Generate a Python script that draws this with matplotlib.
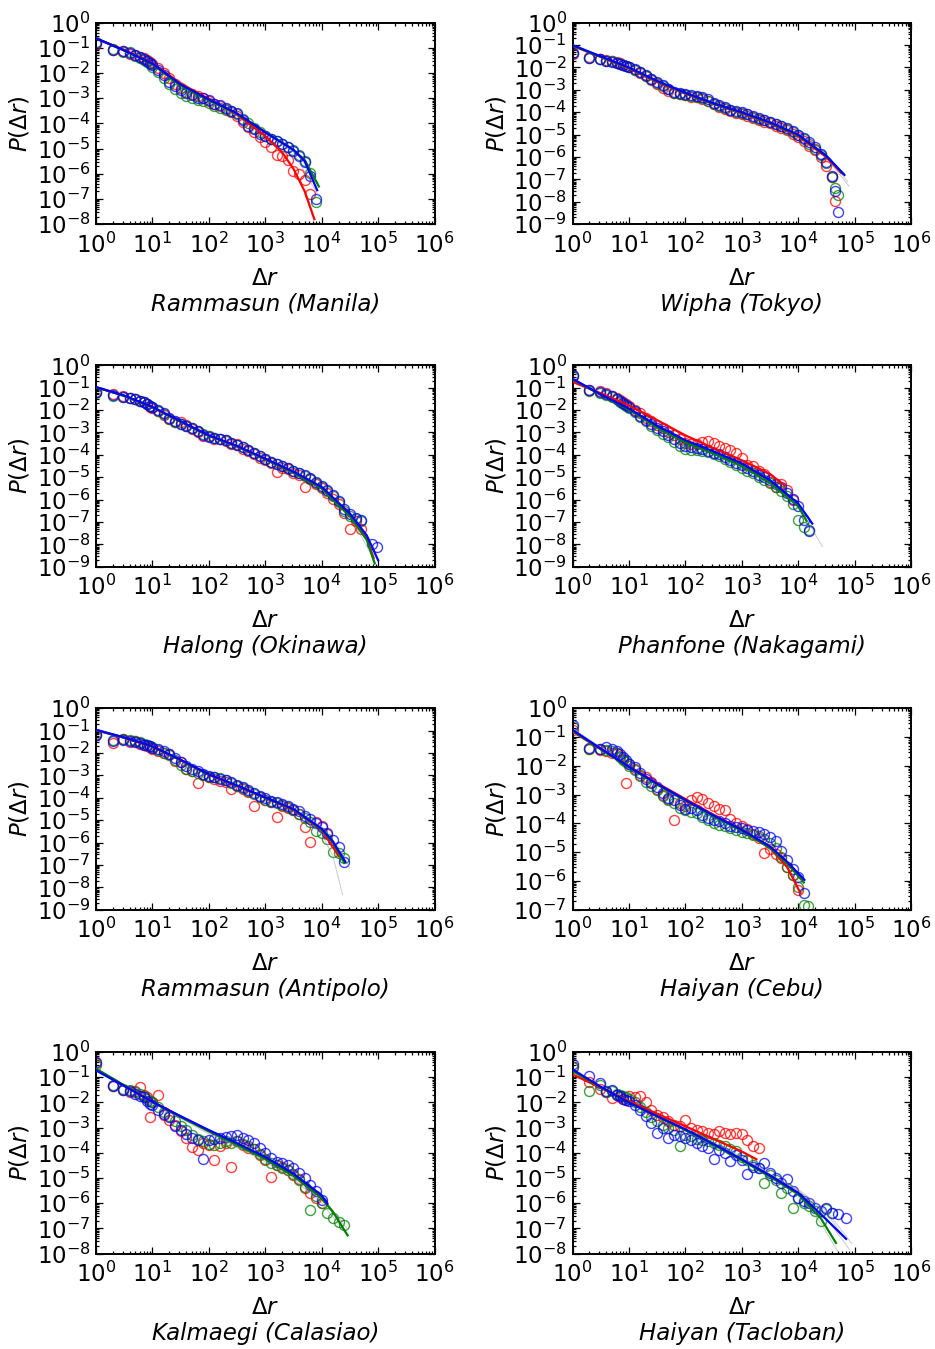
import numpy as np
import matplotlib
matplotlib.use("Agg")
import matplotlib.pyplot as plt
from matplotlib.ticker import LogLocator, NullFormatter

# ---------------- data (log10 values) ----------------
NAMES = ["Rammasun (Manila)", "Wipha (Tokyo)", "Halong (Okinawa)", "Phanfone (Nakagami)",
         "Rammasun (Antipolo)", "Haiyan (Cebu)", "Kalmaegi (Calasiao)", "Haiyan (Tacloban)"]
YMIN_EXP = [-8, -9, -9, -9, -9, -7, -8, -8]

# Panel 1: Rammasun (Manila)
X1 = [0, .30, .48, .60, .70, .78, .85, .90, .95, 1.0, 1.1, 1.2, 1.3, 1.4, 1.5, 1.6, 1.7, 1.8, 1.9,
      2.0, 2.1, 2.2, 2.3, 2.4, 2.5, 2.6, 2.7, 2.8, 2.9, 3.0, 3.1, 3.2, 3.3, 3.4, 3.5, 3.6, 3.7, 3.8, 3.9]
R1 = [-0.85, -1.1, -1.12, -1.25, -1.3, -1.35, -1.42, -1.48, -1.55, -1.62, -1.8, -1.98, -2.2, -2.42,
      -2.58, -2.75, -2.85, -2.92, -3.0, -3.12, -3.22, -3.32, -3.42, -3.55, -3.7, -3.95, -4.15, -4.35,
      -4.55, -4.75, -4.95, -5.25, -5.3, -5.45, -5.9, -6.0, -6.25, -6.8]
G1 = [-0.78, -1.05, -1.17, -1.18, -1.32, -1.4, -1.47, -1.55, -1.65, -1.75, -1.95, -2.2, -2.45, -2.65,
      -2.8, -2.92, -3.0, -3.05, -3.12, -3.2, -3.3, -3.38, -3.45, -3.52, -3.62, -3.82, -4.0, -4.2,
      -4.35, -4.5, -4.6, -4.7, -4.8, -4.92, -5.05, -5.25, -5.5, -5.95, -7.1]
B1 = [-0.82, -1.1, -1.14, -1.22, -1.28, -1.36, -1.44, -1.52, -1.6, -1.66, -1.88, -2.08, -2.35, -2.52,
      -2.68, -2.78, -2.86, -2.97, -3.0, -3.08, -3.22, -3.28, -3.38, -3.52, -3.6, -3.88, -4.1, -4.22,
      -4.42, -4.5, -4.62, -4.7, -4.82, -4.95, -5.08, -5.3, -5.55, -6.1, -7.0]
FR1 = ([0, 0.5, 1, 1.5, 2, 2.5, 3, 3.3, 3.5, 3.7, 3.87],
       [-0.62, -1.08, -1.6, -2.42, -3.03, -3.65, -4.5, -5.15, -5.8, -6.7, -7.8])
FG1 = ([0, 0.5, 1, 1.5, 2, 2.5, 3, 3.5, 3.7, 3.95],
       [-0.62, -1.1, -1.65, -2.5, -3.08, -3.62, -4.35, -5.05, -5.45, -6.5])
FB1 = ([0, 0.5, 1, 1.5, 2, 2.5, 3, 3.5, 3.7, 3.92],
       [-0.62, -1.1, -1.62, -2.45, -3.05, -3.6, -4.35, -5.05, -5.5, -6.65])
GR1 = [([0, 1, 2, 3, 3.5, 3.95], [-0.65, -1.65, -3.05, -4.4, -5.15, -6.9]),
       ([0, 1, 2, 3, 3.5, 3.95], [-0.6, -1.6, -3.1, -4.3, -5.0, -6.4])]

# Panel 2: Wipha (Tokyo)
X2 = [0, .30, .48, .60, .70, .78, .85, .90, .95, 1.0, 1.1, 1.2, 1.3, 1.4, 1.5, 1.6, 1.7, 1.8, 1.9,
      2.0, 2.1, 2.2, 2.3, 2.4, 2.5, 2.6, 2.7, 2.8, 2.9, 3.0, 3.1, 3.2, 3.3, 3.4, 3.5, 3.6, 3.7, 3.8, 3.9,
      4.0, 4.1, 4.2, 4.3, 4.4, 4.5, 4.6, 4.65, 4.7]
R2 = [-1.4, -1.52, -1.6, -1.65, -1.7, -1.75, -1.82, -1.88, -1.92, -1.98, -2.1, -2.25, -2.4, -2.55,
      -2.72, -2.9, -3.05, -3.15, -3.2, -3.25, -3.3, -3.32, -3.4, -3.5, -3.62, -3.75, -3.85, -3.95,
      -4.05, -4.08, -4.15, -4.25, -4.33, -4.42, -4.5, -4.6, -4.7, -4.8, -4.95, -5.1, -5.3, -5.5,
      -5.7, -6.0, -6.4, -6.9, -7.95]
G2 = [-1.35, -1.57, -1.64, -1.7, -1.73, -1.8, -1.86, -1.9, -1.95, -1.98, -2.1, -2.22, -2.38, -2.52,
      -2.68, -2.82, -2.98, -3.12, -3.18, -3.22, -3.27, -3.3, -3.37, -3.48, -3.62, -3.72, -3.8, -3.9,
      -3.98, -4.02, -4.1, -4.2, -4.28, -4.36, -4.44, -4.53, -4.63, -4.73, -4.87, -5.02, -5.2, -5.42,
      -5.62, -5.9, -6.25, -6.9, -7.4, -7.7]
B2 = [-1.37, -1.59, -1.63, -1.69, -1.74, -1.8, -1.85, -1.9, -1.94, -1.97, -2.08, -2.2, -2.35, -2.5,
      -2.65, -2.8, -2.95, -3.08, -3.15, -3.18, -3.22, -3.27, -3.33, -3.43, -3.58, -3.68, -3.78, -3.88,
      -3.96, -4.0, -4.08, -4.18, -4.27, -4.35, -4.43, -4.52, -4.62, -4.72, -4.85, -5.0, -5.15, -5.35,
      -5.53, -5.85, -6.2, -6.85, -7.5, -8.45]
FR2 = ([0, 0.5, 1, 1.5, 2, 2.5, 3, 3.5, 4, 4.5, 4.76],
       [-1.03, -1.53, -2.05, -2.65, -3.17, -3.63, -4.05, -4.5, -5.07, -6.0, -6.7])
FG2 = ([0, 0.5, 1, 1.5, 2, 2.5, 3, 3.5, 4, 4.5, 4.8],
       [-1.02, -1.52, -2.02, -2.62, -3.15, -3.62, -4.03, -4.48, -5.03, -5.95, -6.75])
FB2 = ([0, 0.5, 1, 1.5, 2, 2.5, 3, 3.5, 4, 4.5, 4.82],
       [-1.0, -1.5, -2.0, -2.6, -3.13, -3.6, -4.0, -4.45, -5.0, -5.95, -6.8])
GR2 = [([0, 1, 2, 3, 4, 4.5, 4.9], [-1.02, -2.02, -3.15, -4.02, -5.05, -6.05, -7.3]),
       ([0, 1, 2, 3, 4, 4.5, 4.88], [-1.0, -2.0, -3.12, -4.0, -5.0, -6.0, -7.1])]

# Panel 3: Halong (Okinawa)
X3 = [0, .30, .48, .60, .70, .78, .85, .90, .95, 1.0, 1.1, 1.2, 1.3, 1.4, 1.5, 1.6, 1.7, 1.8, 1.9,
      2.0, 2.1, 2.2, 2.3, 2.4, 2.5, 2.6, 2.7, 2.8, 2.9, 3.0, 3.1, 3.2, 3.3, 3.4, 3.5, 3.6, 3.7, 3.8, 3.9,
      4.0, 4.1, 4.2, 4.3, 4.4, 4.5, 4.6, 4.7, 4.9, 4.98]
R3 = [-1.2, -1.3, -1.38, -1.48, -1.52, -1.6, -1.62, -1.75, -1.85, -1.9, -2.05, -2.2, -2.42, -2.55,
      -2.55, -2.68, -2.85, -3.0, -3.15, -3.15, -3.3, -3.28, -3.4, -3.5, -3.5, -3.72, -3.82, -3.95,
      -4.15, -4.25, -4.35, -4.76, -4.6, -4.65, -4.8, -4.9, -5.43, -5.1, -5.3, -5.5, -5.7, -5.95,
      -6.2, -6.6, -7.3, -6.95, -7.3]
G3 = [-1.22, -1.36, -1.42, -1.45, -1.52, -1.6, -1.66, -1.73, -1.8, -1.88, -2.02, -2.18, -2.38,
      -2.52, -2.62, -2.72, -2.8, -2.93, -3.08, -3.18, -3.23, -3.28, -3.35, -3.45, -3.55, -3.65, -3.78,
      -3.9, -4.05, -4.2, -4.3, -4.4, -4.5, -4.6, -4.72, -4.82, -4.95, -5.08, -5.25, -5.42, -5.6,
      -5.85, -6.1, -6.5, -6.75, -6.85, -6.95]
B3 = [-1.19, -1.33, -1.4, -1.45, -1.5, -1.58, -1.65, -1.72, -1.8, -1.86, -2.0, -2.15, -2.35, -2.5,
      -2.6, -2.7, -2.8, -2.95, -3.1, -3.2, -3.25, -3.3, -3.35, -3.45, -3.55, -3.65, -3.78, -3.9, -4.05,
      -4.2, -4.3, -4.4, -4.5, -4.6, -4.7, -4.8, -4.92, -5.05, -5.2, -5.38, -5.55, -5.8, -6.05, -6.4,
      -6.65, -6.8, -6.9, -8.0, -8.1]
FR3 = ([0, 0.5, 1, 1.5, 2, 2.5, 3, 3.5, 4, 4.5, 4.8, 4.92],
       [-0.98, -1.36, -1.88, -2.52, -3.15, -3.62, -4.2, -4.8, -5.5, -6.72, -7.75, -8.6])
FG3 = ([0, 0.5, 1, 1.5, 2, 2.5, 3, 3.5, 4, 4.5, 4.8, 4.94],
       [-0.98, -1.36, -1.88, -2.52, -3.15, -3.62, -4.2, -4.8, -5.5, -6.75, -7.8, -8.85])
FB3 = ([0, 0.5, 1, 1.5, 2, 2.5, 3, 3.5, 4, 4.5, 4.8, 5.0],
       [-0.97, -1.35, -1.86, -2.5, -3.13, -3.6, -4.17, -4.75, -5.43, -6.62, -7.6, -8.7])
GR3 = [([0, 1, 2, 3, 4, 4.5, 4.95], [-0.98, -1.87, -3.14, -4.2, -5.48, -6.7, -8.8])]

# Panel 4: Phanfone (Nakagami)
X4 = [0, .30, .48, .60, .70, .78, .85, .90, .95, 1.0, 1.1, 1.2, 1.3, 1.4, 1.5, 1.6, 1.7, 1.8, 1.9,
      2.0, 2.1, 2.2, 2.3, 2.4, 2.5, 2.6, 2.7, 2.8, 2.9, 3.0, 3.1, 3.2, 3.3, 3.4, 3.5, 3.6, 3.7, 3.8, 3.9,
      4.0, 4.1, 4.2]
R4 = [-0.48, -1.1, -1.15, -1.25, -1.35, -1.45, -1.55, -1.62, -1.72, -1.8, -1.98, -2.15, -2.35, -2.5,
      -2.65, -2.82, -2.98, -3.12, -3.3, -3.45, -3.5, -3.5, -3.42, -3.4, -3.45, -3.6, -3.7, -3.8, -3.9,
      -4.15, -4.45, -4.5, -4.7, -4.84, -5.2, -5.45, -5.3, -5.58, -6.0]
G4 = [-0.5, -1.15, -1.25, -1.32, -1.42, -1.52, -1.62, -1.72, -1.8, -1.9, -2.1, -2.3, -2.5, -2.7,
      -2.88, -3.05, -3.22, -3.42, -3.6, -3.72, -3.78, -3.8, -3.82, -3.88, -3.95, -4.05, -4.18, -4.3,
      -4.45, -4.58, -4.7, -4.82, -4.98, -5.12, -5.25, -5.42, -5.6, -5.85, -6.2, -6.9, -7.2, -7.35]
B4 = [-0.45, -1.12, -1.2, -1.3, -1.38, -1.5, -1.6, -1.68, -1.78, -1.86, -2.05, -2.25, -2.45, -2.62,
      -2.78, -2.95, -3.1, -3.3, -3.45, -3.6, -3.65, -3.7, -3.75, -3.82, -3.9, -3.98, -4.1, -4.22,
      -4.35, -4.45, -4.58, -4.72, -4.88, -5.0, -5.12, -5.3, -5.45, -5.7, -5.95, -6.3, -6.9, -7.4]
FR4 = ([0, 0.5, 1, 1.5, 2, 2.5, 3, 3.5, 3.75],
       [-0.74, -1.25, -1.79, -2.45, -3.13, -3.7, -4.24, -4.85, -5.35])
FG4 = ([0, 0.5, 1, 1.5, 2, 2.5, 3, 3.5, 4, 4.15],
       [-0.62, -1.32, -1.98, -2.78, -3.45, -3.95, -4.5, -5.25, -6.3, -6.95])
FB4 = ([0, 0.5, 1, 1.5, 2, 2.5, 3, 3.5, 4, 4.25],
       [-0.6, -1.3, -1.93, -2.7, -3.35, -3.85, -4.39, -5.13, -6.17, -7.07])
GR4 = [([0, 1, 2, 3, 4, 4.43], [-0.65, -1.95, -3.4, -4.45, -6.25, -8.1])]

# Panel 5: Rammasun (Antipolo)
X5 = [0, .30, .48, .60, .70, .78, .85, .90, .95, 1.0, 1.1, 1.2, 1.3, 1.4, 1.5, 1.6, 1.7, 1.8, 1.9,
      2.0, 2.1, 2.2, 2.3, 2.4, 2.5, 2.6, 2.7, 2.8, 2.9, 3.0, 3.1, 3.2, 3.3, 3.4, 3.5, 3.6, 3.7, 3.8, 3.9,
      4.0, 4.1, 4.2, 4.3, 4.4]
R5 = [-1.2, -1.55, -1.38, -1.5, -1.45, -1.6, -1.62, -1.7, -1.72, -1.8, -1.9, -1.98, -2.05, -2.35,
      -2.4, -2.7, -2.8, -3.32, -3.0, -3.05, -3.15, -3.25, -3.3, -3.6, -3.45, -3.6, -3.75, -4.35, -3.95,
      -4.1, -4.2, -4.87, -4.35, -4.45, -4.55, -4.7, -5.3, -5.97, -5.1, -5.25, -5.6]
G5 = [-1.15, -1.4, -1.38, -1.42, -1.48, -1.5, -1.58, -1.62, -1.68, -1.75, -1.88, -1.98, -2.1, -2.3,
      -2.55, -2.7, -2.78, -2.88, -2.98, -3.05, -3.08, -3.12, -3.2, -3.35, -3.48, -3.58, -3.7, -3.82,
      -3.98, -4.08, -4.18, -4.25, -4.32, -4.42, -4.55, -4.72, -4.9, -5.1, -5.5, -5.55, -5.85, -6.42,
      -6.45, -6.7]
B5 = [-1.18, -1.47, -1.4, -1.45, -1.52, -1.55, -1.62, -1.65, -1.7, -1.77, -1.83, -1.92, -2.04,
      -2.2, -2.4, -2.58, -2.7, -2.82, -2.92, -3.02, -3.08, -3.15, -3.2, -3.3, -3.42, -3.52, -3.65,
      -3.78, -3.92, -4.02, -4.12, -4.2, -4.28, -4.38, -4.48, -4.6, -4.82, -4.95, -5.12, -5.28, -5.55,
      -5.9, -6.2, -6.86]
FR5 = ([0, 0.5, 1, 1.5, 2, 2.5, 3, 3.5, 4, 4.3],
       [-0.98, -1.32, -1.72, -2.32, -2.97, -3.47, -4.0, -4.55, -5.42, -6.6])
FG5 = ([0, 0.5, 1, 1.5, 2, 2.5, 3, 3.5, 4, 4.2, 4.4],
       [-0.97, -1.31, -1.71, -2.31, -2.96, -3.46, -4.0, -4.52, -5.42, -6.0, -6.9])
FB5 = ([0, 0.5, 1, 1.5, 2, 2.5, 3, 3.5, 4, 4.2, 4.42],
       [-0.96, -1.3, -1.7, -2.3, -2.95, -3.45, -3.98, -4.5, -5.38, -5.95, -6.86])
GR5 = [([0, 1, 2, 3, 3.5, 4, 4.2, 4.37], [-0.95, -1.7, -2.95, -3.98, -4.55, -5.6, -6.6, -8.33]),
       ([0, 1, 2, 3, 3.5, 4, 4.3, 4.5], [-0.96, -1.7, -2.95, -3.98, -4.48, -5.3, -6.2, -7.15])]

# Panel 6: Haiyan (Cebu)
X6 = [0, .30, .48, .60, .70, .78, .85, .90, .95, 1.0, 1.1, 1.2, 1.3, 1.4, 1.5, 1.6, 1.7, 1.8, 1.9,
      2.0, 2.1, 2.2, 2.3, 2.4, 2.5, 2.6, 2.7, 2.8, 2.9, 3.0, 3.1, 3.2, 3.3, 3.4, 3.5, 3.6, 3.7, 3.8, 3.9,
      4.0, 4.1, 4.17]
R6 = [-0.75, -1.4, -1.45, -1.5, -1.55, -1.55, -1.65, -1.75, -2.6, -1.95, -2.1, -2.3, -2.4, -2.55,
      -2.8, -3.0, -3.15, -3.88, -3.3, -3.4, -3.2, -3.07, -3.15, -3.3, -3.4, -3.5, -3.55, -3.85, -4.0,
      -4.1, -4.2, -4.35, -4.5, -5.03, -4.9, -5.05, -5.2, -5.5, -5.8, -6.3]
G6 = [-0.65, -1.42, -1.4, -1.45, -1.48, -1.55, -1.68, -1.78, -1.88, -2.0, -2.15, -2.35, -2.55,
      -2.7, -2.85, -3.05, -3.2, -3.3, -3.45, -3.55, -3.6, -3.65, -3.78, -3.88, -3.98, -4.05, -4.1,
      -4.15, -4.22, -4.28, -4.32, -4.4, -4.45, -4.55, -4.68, -4.85, -5.15, -5.5, -5.8, -6.2, -6.83,
      -6.86]
B6 = [-0.58, -1.38, -1.42, -1.35, -1.4, -1.5, -1.6, -1.7, -1.8, -1.92, -2.05, -2.25, -2.45, -2.6,
      -2.75, -2.95, -3.1, -3.2, -3.35, -3.5, -3.45, -3.55, -3.7, -3.8, -3.88, -3.92, -3.98, -4.08,
      -4.12, -4.17, -4.22, -4.25, -4.28, -4.38, -4.46, -4.62, -4.95, -5.27, -5.6, -5.85, -6.42]
FR6 = ([0, 0.5, 1, 1.5, 2, 2.5, 3, 3.5, 3.8, 4.04],
       [-0.8, -1.42, -2.02, -2.6, -3.15, -3.7, -4.22, -4.85, -5.5, -6.42])
FG6 = ([0, 0.5, 1, 1.5, 2, 2.5, 3, 3.5, 3.8, 4.1],
       [-0.78, -1.42, -2.05, -2.65, -3.2, -3.75, -4.25, -4.85, -5.38, -6.05])
FB6 = ([0, 0.5, 1, 1.5, 2, 2.5, 3, 3.5, 3.8, 4.11],
       [-0.75, -1.4, -2.03, -2.62, -3.18, -3.72, -4.22, -4.8, -5.32, -5.96])
GR6 = [([0, 1, 2, 3, 3.5, 4.1], [-0.85, -2.05, -3.2, -4.25, -4.9, -6.2]),
       ([0, 1, 2, 3, 3.5, 4.1], [-0.7, -2.0, -3.15, -4.2, -4.78, -5.9])]

# Panel 7: Kalmaegi (Calasiao)
X7 = [0, .30, .48, .60, .70, .78, .85, .90, .95, 1.0, 1.1, 1.2, 1.3, 1.4, 1.5, 1.6, 1.7, 1.8, 1.9,
      2.0, 2.1, 2.2, 2.3, 2.4, 2.5, 2.6, 2.7, 2.8, 2.9, 3.0, 3.1, 3.2, 3.3, 3.4, 3.5, 3.6, 3.7, 3.8, 3.9,
      4.0, 4.1, 4.2, 4.3, 4.4]
R7 = [-0.45, -1.35, -1.5, -1.6, -1.55, -1.39, -1.7, -1.8, -2.58, -2.0, -1.72, -2.5, -2.7, -2.9,
      -3.15, -3.4, -3.77, -3.9, -3.6, -3.7, -4.3, -3.75, -3.6, -4.56, -3.55, -3.7, -3.8, -3.85, -4.1,
      -4.3, -4.96, -4.5, -4.55, -4.7, -4.9, -5.05, -5.4, -5.6, -5.8, -6.0]
G7 = [-0.5, -1.3, -1.45, -1.5, -1.6, -1.68, -1.75, -1.85, -1.95, -2.0, -2.2, -2.4, -2.55, -2.75,
      -2.95, -3.1, -3.3, -3.45, -3.55, -3.65, -3.7, -3.6, -3.55, -3.6, -3.55, -3.65, -3.75, -3.85,
      -4.05, -4.25, -4.4, -4.5, -4.6, -4.7, -4.85, -5.1, -5.35, -6.28, -5.7, -6.0, -6.4, -6.61, -6.75,
      -6.88]
B7 = [-0.4, -1.35, -1.5, -1.55, -1.65, -1.75, -1.8, -1.95, -2.05, -2.1, -2.3, -2.45, -2.6, -2.95,
      -3.1, -3.25, -3.4, -3.5, -4.23, -3.5, -3.45, -3.4, -3.38, -3.35, -3.3, -3.4, -3.5, -3.6, -3.8,
      -4.0, -4.2, -4.35, -4.4, -4.5, -4.6, -4.8, -5.0, -5.3, -5.5, -5.89]
FR7 = ([0, 0.5, 1, 1.5, 2, 2.5, 3, 3.5, 3.9, 4.05],
       [-0.7, -1.34, -1.97, -2.56, -3.12, -3.65, -4.22, -4.9, -5.55, -5.95])
FG7 = ([0, 0.5, 1, 1.5, 2, 2.5, 3, 3.5, 4, 4.2, 4.46],
       [-0.66, -1.32, -1.98, -2.58, -3.15, -3.68, -4.25, -4.92, -5.8, -6.35, -7.28])
FB7 = ([0, 0.5, 1, 1.5, 2, 2.5, 3, 3.5, 4, 4.1],
       [-0.73, -1.35, -1.98, -2.55, -3.1, -3.62, -4.17, -4.83, -5.69, -6.02])
GR7 = [([0, 1, 2, 3, 3.5, 4, 4.45], [-0.7, -2.0, -3.2, -4.3, -5.0, -5.9, -7.0]),
       ([0, 1, 2, 3, 3.5, 4, 4.4], [-0.68, -2.02, -3.25, -4.35, -5.05, -6.0, -7.1]),
       ([0, 1, 2, 3, 3.5, 4, 4.35], [-0.72, -1.98, -3.15, -4.22, -4.9, -5.75, -6.7])]

# Panel 8: Haiyan (Tacloban)
X8 = [0, .30, .48, .60, .70, .78, .85, .90, .95, 1.0, 1.1, 1.2, 1.3, 1.4, 1.5, 1.6, 1.7, 1.8, 1.9,
      2.0, 2.1, 2.2, 2.3, 2.4, 2.5, 2.6, 2.7, 2.8, 2.9, 3.0, 3.1, 3.2, 3.3, 3.4, 3.5, 3.6, 3.7, 3.8, 3.9,
      4.0, 4.1, 4.2, 4.3, 4.4, 4.5, 4.6, 4.7, 4.84]
R8 = [-0.6, -1.2, -1.45, -1.6, -1.81, -1.7, -1.8, -1.85, -1.9, -1.75, -1.8, -1.75, -2.0, -2.3,
      -2.5, -2.6, -2.75, -2.9, -2.95, -2.68, -3.0, -3.1, -3.15, -3.2, -3.25, -3.14, -3.2, -3.25, -3.2,
      -3.27, -3.5, -3.73, -3.8]
G8 = [-0.6, -1.55, -1.3, -1.6, -1.55, -1.65, -1.7, -1.75, -1.8, -1.85, -2.0, -2.2, -2.4, -2.6,
      -2.75, -2.9, -3.0, -3.1, -3.73, -3.3, -3.35, -3.45, -3.5, -3.55, -3.6, -3.7, -3.75, -3.85, -3.95,
      -4.15, -4.3, -4.5, -4.6, -5.2, -4.9, -5.1, -5.59, -5.4, -6.19, -5.8, -6.0, -6.1, -6.3, -6.72,
      -6.25, -6.4]
B8 = [-0.49, -0.95, -1.25, -1.55, -1.5, -1.7, -1.75, -1.85, -1.9, -1.95, -2.1, -2.3, -2.54, -2.8,
      -3.2, -3.0, -3.4, -3.3, -3.35, -3.4, -3.5, -3.6, -3.73, -3.8, -4.26, -3.9, -4.0, -4.33, -4.1,
      -4.3, -4.86, -4.55, -4.6, -4.4, -4.8, -5.0, -5.2, -5.06, -5.5, -5.79, -5.9, -6.0, -6.2, -6.3,
      -6.2, -6.38, -6.45, -6.58]
FR8 = ([0, 1, 2, 3, 3.26], [-0.89, -1.95, -2.95, -3.95, -4.26])
FG8 = ([0, 0.5, 1, 1.5, 2, 2.5, 3, 3.5, 4, 4.4, 4.67],
       [-0.75, -1.4, -2.0, -2.55, -3.1, -3.68, -4.3, -4.95, -5.65, -6.6, -7.58])
FB8 = ([0, 0.5, 1, 1.5, 2, 2.5, 3, 3.5, 4, 4.5, 4.85],
       [-0.69, -1.38, -2.01, -2.55, -3.07, -3.65, -4.26, -4.9, -5.59, -6.65, -7.42])
GR8 = [([0, 1, 2, 3, 4, 4.5, 4.91], [-0.8, -1.98, -3.05, -4.2, -5.5, -6.6, -7.84]),
       ([0, 1, 2, 3, 4, 4.5, 4.95], [-0.75, -2.0, -3.1, -4.25, -5.45, -6.3, -7.6]),
       ([0, 1, 2, 3, 4, 4.4, 4.7], [-0.85, -1.95, -3.0, -4.15, -5.6, -6.8, -7.9]),
       ([0, 1, 2, 3, 4, 4.5, 4.8], [-0.7, -2.02, -3.08, -4.3, -5.5, -6.4, -7.3])]

PANELS = [
    (X1, R1, G1, B1, FR1, FG1, FB1, GR1),
    (X2, R2, G2, B2, FR2, FG2, FB2, GR2),
    (X3, R3, G3, B3, FR3, FG3, FB3, GR3),
    (X4, R4, G4, B4, FR4, FG4, FB4, GR4),
    (X5, R5, G5, B5, FR5, FG5, FB5, GR5),
    (X6, R6, G6, B6, FR6, FG6, FB6, GR6),
    (X7, R7, G7, B7, FR7, FG7, FB7, GR7),
    (X8, R8, G8, B8, FR8, FG8, FB8, GR8),
]

# ---------------- figure ----------------
plt.rcParams['font.family'] = ['DejaVu Sans']
plt.rcParams['mathtext.fontset'] = 'dejavusans'

W, H = 935, 1349
fig = plt.figure(figsize=(W / 100, H / 100), dpi=100)

COLS_X = [96, 572.5]
AX_W = 338.5
ROWS_TOP = [22.7, 365.3, 708.3, 1052.0]
AX_H = 201.5

RED, GREEN, BLUE = (1, 0, 0), (0, 0.5, 0), (0, 0, 1)
FS = 16.5


def p10(v):
    return 10.0 ** np.asarray(v, dtype=float)


for i, (xs, rr, gg, bb, fr, fg, fb, greys) in enumerate(PANELS):
    row, col = divmod(i, 2)
    left = COLS_X[col] / W
    bottom = 1 - (ROWS_TOP[row] + AX_H) / H
    ax = fig.add_axes([left, bottom, AX_W / W, AX_H / H])

    for ys, c in ((rr, RED), (gg, GREEN), (bb, BLUE)):
        ax.plot(p10(xs[:len(ys)]), p10(ys), 'o', mfc='none', mec=c, ms=7.2, mew=1.0,
                alpha=0.75, zorder=2)
    for gx, gy in greys:
        ax.plot(p10(gx), p10(gy), '-', color='0.55', lw=0.7, alpha=0.45, zorder=3)
    for (fx, fy), c in ((fr, RED), (fg, GREEN), (fb, BLUE)):
        ax.plot(p10(fx), p10(fy), '-', color=c, lw=1.6, zorder=4)

    ax.set_xscale('log')
    ax.set_yscale('log')
    ax.set_xlim(1, 1e6)
    ax.set_ylim(10.0 ** YMIN_EXP[i], 1)
    ax.xaxis.set_major_locator(LogLocator(base=10, numticks=20))
    ax.yaxis.set_major_locator(LogLocator(base=10, numticks=20))
    ax.xaxis.set_minor_locator(LogLocator(base=10, subs=np.arange(2, 10), numticks=100))
    ax.yaxis.set_minor_locator(LogLocator(base=10, subs=np.arange(2, 10), numticks=100))
    ax.xaxis.set_minor_formatter(NullFormatter())
    ax.yaxis.set_minor_formatter(NullFormatter())
    ax.tick_params(which='both', direction='in', top=True, right=True, labelsize=FS,
                   width=0.9, colors='black')
    ax.tick_params(which='major', length=5)
    ax.tick_params(which='minor', length=2.5)
    ax.tick_params(axis='x', which='major', pad=6)
    ax.tick_params(axis='y', which='major', pad=4)
    for s in ax.spines.values():
        s.set_linewidth(1.4)

    ax.text(-0.225, 0.5, r'$P(\Delta r)$', transform=ax.transAxes, rotation=90,
            ha='center', va='center', fontsize=FS)
    ax.text(0.5, -0.268, r'$\Delta r$', transform=ax.transAxes, ha='center',
            va='center', fontsize=FS)
    ax.text(0.5, -0.398, NAMES[i], transform=ax.transAxes, ha='center', va='center',
            fontsize=FS, fontstyle='italic')

fig.savefig('out.png', dpi=100)
